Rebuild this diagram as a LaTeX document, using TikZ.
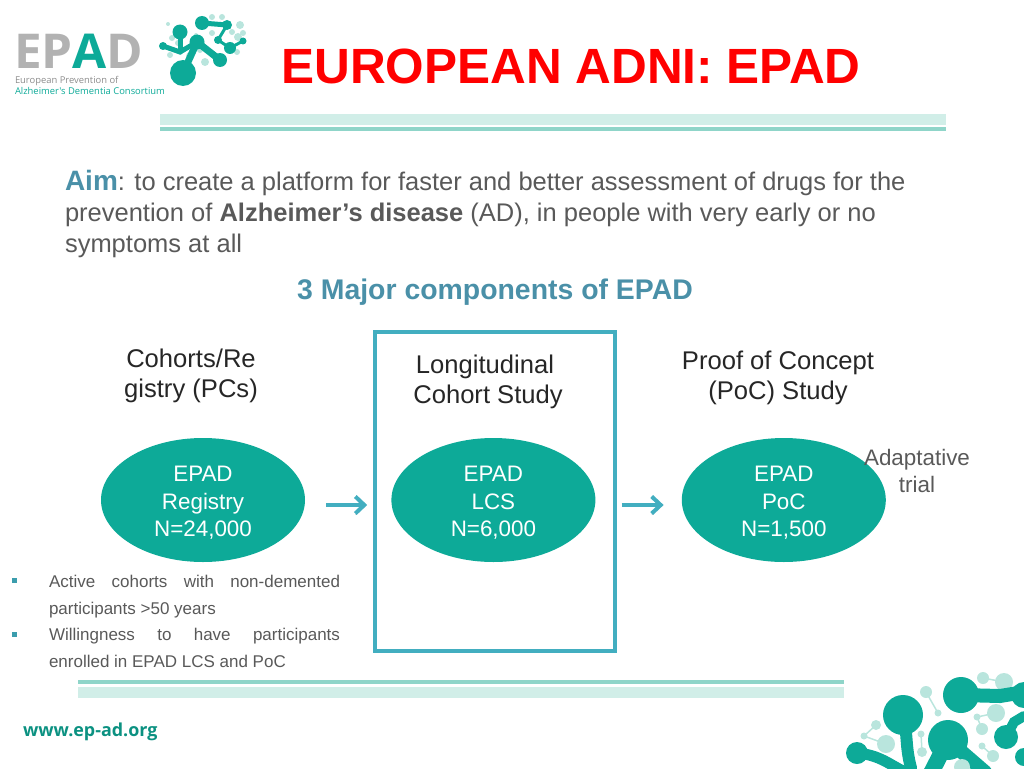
\documentclass[tikz,border=0pt]{standalone}
\usepackage{fontspec}
\setmainfont{Liberation Sans}
\newfontfamily\logofont{Open Sans}
\usepackage{tikz}
\usetikzlibrary{positioning,shapes.geometric,arrows.meta}
\definecolor{epadteal}{HTML}{0DAA98}
\definecolor{barlight}{HTML}{D1EEE8}
\definecolor{bardark}{HTML}{8FD5C9}
\definecolor{dotlight}{HTML}{B9E5DD}
\definecolor{boxblue}{HTML}{42AEC0}
\definecolor{headblue}{HTML}{4A90A8}
\definecolor{bodygrey}{HTML}{595959}
\newcommand{\SetSize}[2]{\fontsize{#1}{#2}\selectfont}
\newcommand{\TopGap}{\rule{0pt}{21.25pt}}
\tikzset{
  x=1pt, y=-1pt,
  plain/.style={inner sep=0pt, outer sep=0pt},
  aimline/.style={plain, anchor=base west, text=bodygrey, font=\SetSize{25.5}{30}},
  headline/.style={plain, align=center, text=black!85, font=\SetSize{25.6}{30.5}},
  bulletline/.style={plain, anchor=base west, text=bodygrey, font=\SetSize{17}{20}},
  bulletmark/.style={plain, fill=boxblue!90!black, minimum size=5pt},
  component/.style={ellipse, fill=epadteal, text=white, inner sep=0pt, minimum width=204pt,
    minimum height=124pt, align=center, font=\SetSize{22.4}{27.5}},
  flowarrow/.style={-{Straight Barb[length=9pt,width=17pt,line width=4pt]}, boxblue, line width=4pt,
    preaction={draw=black!22, transform canvas={yshift=-1.5pt}}},
  darkblob/.style={fill=epadteal},
  lightdot/.style={fill=dotlight},
}
\begin{document}
\begin{tikzpicture}
	\useasboundingbox (0,0) rectangle (1024,768);
	\clip (0,0) rectangle (1024,768);

	% Bars
	\fill[barlight] (160,114) rectangle (946,125);
	\fill[bardark] (160,127) rectangle (946,131);
	\fill[bardark] (78,680) rectangle (844,684);
	\fill[barlight] (78,687) rectangle (844,698);

	% Logo, top left
	\node[plain, anchor=base west, font=\logofont\bfseries\SetSize{48}{48}, text=black!30, xscale=1.03] (logoname) at (14,68)
		{EP\textcolor{epadteal}{A}D};
	\node[plain, anchor=base west, font=\logofont\SetSize{9.4}{10}, text=black!45] (logoone) at (15,83) {European Prevention of};
	\node[plain, anchor=base west, font=\logofont\SetSize{9.4}{10}, text=epadteal] (logotwo) at (15,94.5) {Alzheimer's Dementia Consortium};

	% Brain, top left
	\foreach \x/\y/\r in {172/38/3,168/24/2,190/56/4,170/55/3,205/62/4,200/50/3,212/17/3,222/17/3,240/25/4,243/33/3,
		238/37/4,212/33/3,232/32/3,237/52/3,178/43/3,196/35/2}
		\fill[lightdot] (\x,\y) circle (\r);
	\draw[epadteal, line width=7pt, line cap=round] (183,73) -- (197,42) -- (220,60);
	\draw[epadteal, line width=5pt, line cap=round] (197,42) -- (180,52) -- (163,46);
	\draw[epadteal, line width=5pt, line cap=round] (180,32) -- (180,52);
	\draw[epadteal, line width=5pt, line cap=round] (202,23) -- (227,25);
	\draw[epadteal, line width=3pt, line cap=round] (227,25) -- (218,40) -- (230,48) -- (243,41);
	\foreach \x/\y/\r in {183/73/13,197/42/7.5,220/60/7,180/32/7.5,163/46/4,202/23/7,227/25/5,218/40/4,230/48/6,243/41/3.5}
		\fill[darkblob] (\x,\y) circle (\r);

	% Brain, bottom right
	\draw[dotlight, line width=1.5pt] (926,692) -- (938,713) (996,713) -- (977,717) -- (982,729)
		(1004,682) -- (983,678) (876,725) -- (864,736) -- (886,744) (921,734) -- (922,752) (982,746) -- (993,756);
	\foreach \x/\y/\r in {926/692/6,938/713/3.5,996/713/9,977/717/3.5,982/729/6,1004/682/9,983/678/6,876/725/5,864/736/3.5,
		886/744/9,921/734/3.5,922/752/5,982/746/3.5,993/756/6}
		\fill[lightdot] (\x,\y) circle (\r);
	\draw[epadteal, line width=14pt, line cap=round] (961,695) -- (1000,696) -- (1024,692);
	\draw[epadteal, line width=12pt, line cap=round] (903,715) .. controls (908,735) and (905,745) .. (911,768);
	\draw[epadteal, line width=11pt, line cap=round] (857,753) .. controls (880,755) and (890,765) .. (905,772);
	\draw[epadteal, line width=16pt, line cap=round] (948,740) -- (930,775);
	\draw[epadteal, line width=14pt, line cap=round] (948,740) -- (985,772);
	\draw[epadteal, line width=10pt, line cap=round] (1006,737) -- (1014,722) -- (1024,716);
	\foreach \x/\y/\r in {961/695/18,903/715/20,948/740/20,857/753/11,1006/737/12,1024/757/9,1024/695/13}
		\fill[darkblob] (\x,\y) circle (\r);
	\fill[lightdot] (962,767) circle (8);

	\node[plain, anchor=base west, font=\logofont\bfseries\SetSize{17.9}{20}, text=epadteal!85!black] (website) at (23,736.5) {www.ep-ad.org};

	% Title and aim
	\node[plain, font=\bfseries\SetSize{49.5}{50}, text=red] (title) at (571,66) {EUROPEAN ADNI: EPAD};
	\node[aimline] (aimone) at (65,190) {\textcolor{headblue}{\bfseries\SetSize{28}{30}Aim}: to create a platform for faster and better assessment of drugs for the};
	\node[aimline] (aimtwo) at (65,221) {prevention of \textbf{Alzheimer's disease} (AD), in people with very early or no};
	\node[aimline] (aimthree) at (65,252) {symptoms at all};
	\node[plain, font=\bfseries\SetSize{28.4}{30}, text=headblue] (major) at (495,292) {3 Major components of EPAD};

	% Define nodes
	\node[component] (registry) at (203,500) {\TopGap EPAD\\Registry\\N=24,000};
	\node[component, right=86pt of registry] (lcs) {\TopGap EPAD\\LCS\\N=6,000};
	\node[component, right=86pt of lcs] (poc) {\TopGap EPAD\\PoC\\N=1,500};
	\node[draw=boxblue, line width=4pt, plain, minimum width=240pt, minimum height=319pt] (lcsbox) at (495,491.5) {};

	\node[headline] (cohorts) at (191,376) {Cohorts/Re\\gistry (PCs)};
	\node[headline] (lcshead) at (488,382) {Longitudinal\hspace*{6pt}\\Cohort Study};
	\node[headline] (pochead) at (778,378) {Proof of Concept\\(PoC) Study};
	\node[plain, align=center, text=bodygrey, font=\SetSize{22.4}{27.5}] (adaptive) at (917,471) {Adaptative\\trial};

	% Bullets
	\node[bulletmark] (markone) at (14,580) {};
	\node[bulletmark] (marktwo) at (14,634) {};
	\node[bulletline] (bulone) at (49,587) {\makebox[291pt][s]{Active cohorts with non-demented}};
	\node[bulletline] (bultwo) at (49,614) {participants >50 years};
	\node[bulletline] (bulthree) at (49,640) {\makebox[291pt][s]{Willingness to have participants}};
	\node[bulletline] (bulfour) at (49,667) {enrolled in EPAD LCS and PoC};

	% Connect the nodes
	\draw[flowarrow, shorten <=21pt, shorten >=24pt] ([yshift=-5pt]registry.east) -- ([yshift=-5pt]lcs.west);
	\draw[flowarrow, shorten <=26pt, shorten >=18pt] ([yshift=-5pt]lcs.east) -- ([yshift=-5pt]poc.west);
\end{tikzpicture}
\end{document}
